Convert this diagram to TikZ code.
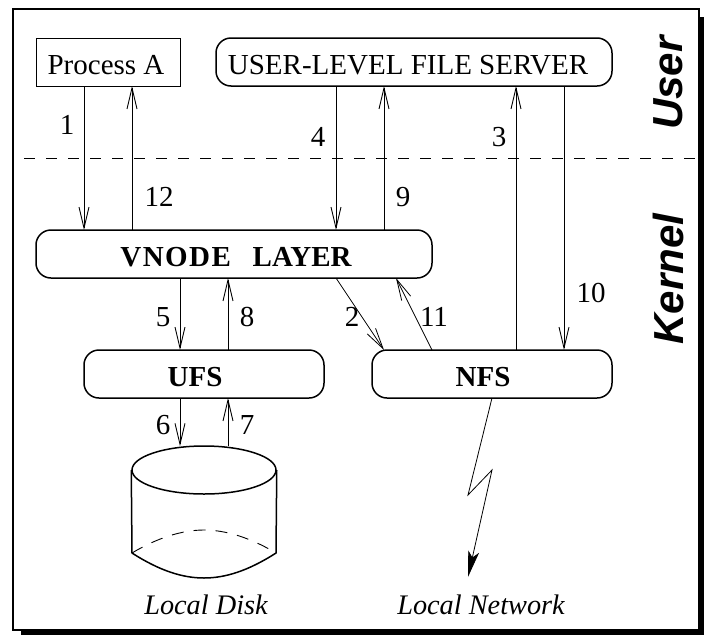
\documentclass[tikz,border=0pt]{standalone}
\usepackage{fontspec}
\setmainfont{Liberation Serif}
\setsansfont{Liberation Sans}
\usetikzlibrary{arrows.meta,positioning,shapes.geometric}
\tikzstyle{plainbox} = [draw, line width=0.9pt, rectangle, outer sep=0pt, inner sep=0pt,
  minimum width=144pt, minimum height=48pt, text height=24pt, text depth=0pt]
\tikzstyle{layerbox} = [draw, line width=1.5pt, rectangle, rounded corners=15pt, outer sep=0pt,
  inner sep=0pt, minimum height=48pt, text height=24pt, text depth=0pt]
\tikzstyle{flow} = [line width=0.9pt, -{Straight Barb[length=21pt,width=10pt]}]
\tikzstyle{num} = [inner sep=0pt]
\tikzstyle{diskcap} = [inner sep=0pt, font=\fontsize{28.3}{30}\selectfont\itshape]
\tikzstyle{sidelabel} = [inner sep=0pt, rotate=90, font=\sffamily\bfseries\itshape\fontsize{42}{42}\selectfont]

\begin{document}
\begin{tikzpicture}[x=1pt, y=-1pt, font=\fontsize{29}{30}\selectfont]
    \useasboundingbox (0,0) rectangle (704,635);

    % frame and its shadow
    \fill (21,629) rectangle (704,635);
    \fill (699.5,17) rectangle (704,635);
    \draw[line width=2pt] (12.5,8.5) rectangle (699,630);

    % user level
    \node[plainbox, anchor=north west] (proc) at (36,38) {Process A\hspace*{4pt}};
    \node[layerbox, minimum width=396pt, right = 36pt of proc] (server)
    {USER-LEVEL FILE SERVER\hspace*{12pt}};

    % kernel level
    \node[layerbox, minimum width=396pt, below right = 144pt and 0pt of proc.south west] (vnode)
    {\hspace*{4pt}\bfseries{\addfontfeatures{LetterSpace=5}VNODE}\hspace{0.75em}LAYER};
    \node[layerbox, minimum width=240pt, below right = 72pt and 48pt of vnode.south west] (ufs)
    {\bfseries UFS\hspace*{18pt}};
    \node[layerbox, minimum width=240pt, right = 48pt of ufs] (nfs)
    {\bfseries NFS\hspace*{18pt}};

    \draw[dashed, line width=0.9pt, dash pattern=on 11pt off 11pt] (24,158) -- (696,158);

    % the disk
    \node[ellipse, draw, line width=1.5pt, inner sep=0pt, minimum width=144pt,
    minimum height=48pt] (disktop) at (204,470) {};
    \draw[line width=1.5pt] (disktop.west) -- (132,553)
    .. controls (160,571) and (183,578) .. (204,578)
    .. controls (225,578) and (248,571) .. (276,553) -- (disktop.east);
    \draw[line width=0.9pt, dash pattern=on 12pt off 10pt] (132,553)
    .. controls (157,538) and (182,530) .. (204,530)
    .. controls (226,530) and (251,538) .. (276,553);

    % connectors
    \draw[flow] ([xshift=48pt]proc.south west) -- ([xshift=48pt]vnode.north west);
    \draw[flow] ([xshift=96pt]vnode.north west) -- ([xshift=96pt]proc.south west);
    \draw[flow] ([xshift=120pt]server.south west) -- ([xshift=300pt]vnode.north west);
    \draw[flow] ([xshift=348pt]vnode.north west) -- ([xshift=168pt]server.south west);
    \draw[flow] ([xshift=144pt]nfs.north west) -- ([xshift=300pt]server.south west);
    \draw[flow] ([xshift=348pt]server.south west) -- ([xshift=192pt]nfs.north west);
    \draw[flow] ([xshift=144pt]vnode.south west) -- ([xshift=96pt]ufs.north west);
    \draw[flow] ([xshift=144pt]ufs.north west) -- ([xshift=192pt]vnode.south west);
    \draw[flow] ([xshift=96pt]ufs.south west) -- ([xshift=-24pt,yshift=-1pt]disktop.north);
    \draw[flow] ([xshift=24pt,yshift=-1pt]disktop.north) -- ([xshift=144pt]ufs.south west);
    \draw[flow, line width=0.8pt] ([xshift=300pt]vnode.south west) -- ([xshift=12pt]nfs.north west);
    \draw[flow, line width=0.8pt] ([xshift=60pt]nfs.north west) -- ([xshift=360pt]vnode.south west);

    % link to the network
    \node[diskcap] (net) at (481,605) {Local Network};
    \node[diskcap] (disk) at (206,605) {Local Disk};
    \draw[line width=0.8pt, -{Stealth[length=26pt,width=11pt,inset=6pt]}]
    ([xshift=120pt]nfs.south west) -- (468,495) -- (492,470) -- (468,577);

    % numbers
    \node[num] (n1) at (67,125) {1};
    \node[num] (n2) at (352,317) {2};
    \node[num] (n3) at (499,137) {3};
    \node[num] (n4) at (318,137) {4};
    \node[num] (n5) at (163,317) {5};
    \node[num] (n6) at (163,425) {6};
    \node[num] (n7) at (247,425) {7};
    \node[num] (n8) at (247,317) {8};
    \node[num] (n9) at (403,197) {9};
    \node[num] (n10) at (591,293) {10};
    \node[num] (n11) at (434,317) {11};
    \node[num] (n12) at (159,197) {12};

    \node[sidelabel] (user) at (668.5,83) {User};
    \node[sidelabel] (kernel) at (668.5,279) {Kernel};

  \end{tikzpicture}
\end{document}
